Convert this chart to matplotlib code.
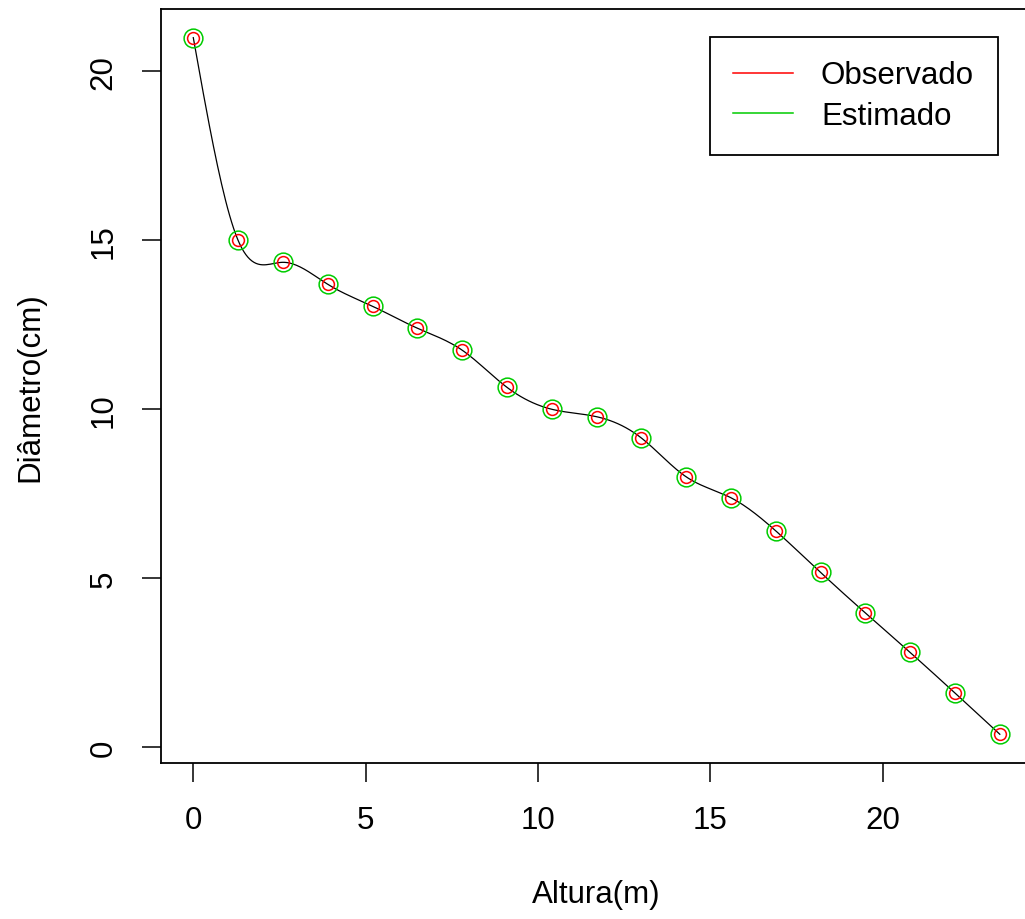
import matplotlib
matplotlib.use("Agg")
import matplotlib.pyplot as plt
import numpy as np

plt.rcParams['font.family'] = ['Liberation Sans', 'DejaVu Sans']

# dados
altura = [0.0, 1.3, 2.6, 3.9, 5.2, 6.5, 7.8, 9.1, 10.4, 11.7, 13.0,
          14.3, 15.6, 16.9, 18.2, 19.5, 20.8, 22.1, 23.4]
observado = [21.0, 15.0, 14.35, 13.7, 13.05, 12.4, 11.75, 10.65, 10.0, 9.78,
             9.15, 8.0, 7.38, 6.4, 5.17, 3.97, 2.8, 1.6, 0.38]
estimado = [21.0, 15.0, 14.35, 13.7, 13.05, 12.4, 11.75, 10.65, 10.0, 9.78,
            9.15, 8.0, 7.38, 6.4, 5.17, 3.97, 2.8, 1.6, 0.38]
xticks = [0, 5, 10, 15, 20]
yticks = [0, 5, 10, 15, 20]


def spline_natural(x, y, n=400):
    # spline cubica natural, so para desenhar a curva suave
    x = np.asarray(x, float)
    y = np.asarray(y, float)
    k = len(x)
    h = np.diff(x)
    A = np.zeros((k, k))
    b = np.zeros(k)
    A[0, 0] = 1
    A[-1, -1] = 1
    for i in range(1, k - 1):
        A[i, i - 1] = h[i - 1]
        A[i, i] = 2 * (h[i - 1] + h[i])
        A[i, i + 1] = h[i]
        b[i] = 3 * ((y[i + 1] - y[i]) / h[i] - (y[i] - y[i - 1]) / h[i - 1])
    c = np.linalg.solve(A, b)
    xs = np.linspace(x[0], x[-1], n)
    idx = np.clip(np.searchsorted(x, xs) - 1, 0, k - 2)
    dx = xs - x[idx]
    hi = h[idx]
    bb = (y[idx + 1] - y[idx]) / hi - hi * (2 * c[idx] + c[idx + 1]) / 3
    dd = (c[idx + 1] - c[idx]) / (3 * hi)
    ys = y[idx] + bb * dx + c[idx] * dx ** 2 + dd * dx ** 3
    return xs, ys


fs = 22.5
fig = plt.figure(figsize=(10.25, 9.2), dpi=100)
ax = fig.add_axes([0.1571, 0.1696, 0.8498, 0.8196])

xs, ys = spline_natural(altura, estimado)
ax.plot(xs, ys, color='black', lw=0.9, zorder=2)
ax.plot(altura, observado, 'o', mfc='none', mec='#ff0000', ms=8.5, mew=1.1, zorder=3)
ax.plot(altura, estimado, 'o', mfc='none', mec='#00cc00', ms=13.5, mew=1.1, zorder=3)

ax.set_xlim(-0.936, 24.336)
ax.set_ylim(-0.47, 21.85)
ax.set_xticks(xticks)
ax.set_yticks(yticks)
ax.tick_params(direction='out', length=13.5, width=1.1, pad=17, labelsize=fs,
               top=False, right=False)
ax.tick_params(axis='y', labelrotation=90)
for lab in ax.get_yticklabels():
    lab.set_va('center')
for s in ax.spines.values():
    s.set_linewidth(1.3)

fig.text(596 / 1025, 1 - 895 / 920, 'Altura(m)', ha='center', va='center', fontsize=fs)
fig.text(30 / 1025, 1 - 387 / 920, 'Diâmetro(cm)', ha='center', va='center',
         rotation=90, fontsize=fs)

ax.plot([], [], color='#ff0000', lw=1.1, label='Observado')
ax.plot([], [], color='#00cc00', lw=1.1, label='Estimado')
leg = ax.legend(loc='upper left', bbox_to_anchor=(710 / 1025, 1 - 38 / 920),
                bbox_transform=fig.transFigure, fontsize=fs, fancybox=False,
                edgecolor='black', framealpha=1, handlelength=1.9,
                handletextpad=0.9, labelspacing=0.35, borderpad=0.75,
                borderaxespad=0)
leg.get_frame().set_linewidth(1.3)

fig.savefig('out.png', dpi=100)
